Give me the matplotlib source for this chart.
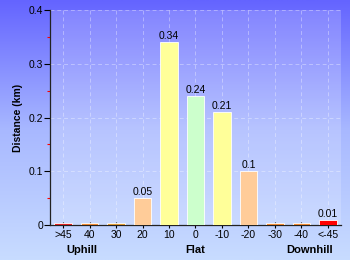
import numpy as np
import matplotlib
matplotlib.use("Agg")
import matplotlib.pyplot as plt
from matplotlib.colors import LinearSegmentedColormap

categories = [">45", "40", "30", "20", "10", "0", "-10", "-20", "-30", "-40", "<-45"]
values = [0.003, 0.003, 0.003, 0.05, 0.34, 0.24, 0.21, 0.10, 0.003, 0.003, 0.01]
labels = ["", "", "", "0.05", "0.34", "0.24", "0.21", "0.1", "", "", "0.01"]
colors = ["#dd2222", "#ee8833", "#dd9933", "#ffcc99", "#ffff99", "#ccffcc",
          "#ffff99", "#ffcc99", "#ee8833", "#ee8833", "#ff0000"]
yticks = [0, 0.1, 0.2, 0.3, 0.4]
ytick_labels = ["0", "0.1", "0.2", "0.3", "0.4"]
groups = [("Uphill", 0.7), ("Flat", 5), ("Downhill", 9.3)]

plt.rcParams['font.family'] = ['Liberation Sans', 'DejaVu Sans']

fig = plt.figure(figsize=(3.5, 2.6), dpi=100)

# background gradient
bg = fig.add_axes([0, 0, 1, 1], zorder=-10)
cmap = LinearSegmentedColormap.from_list("bg", ["#6464ff", "#a8b8ff", "#c8dcff"])
grad = np.linspace(0, 1, 256).reshape(-1, 1)
bg.imshow(grad, aspect="auto", cmap=cmap, extent=[0, 1, 0, 1], origin="upper")
bg.axis("off")

ax = fig.add_axes([50/350, 35/260, 291/350, 215/260])
ax.set_facecolor((1, 1, 1, 0.18))
x = np.arange(len(categories))
ax.bar(x, values, width=0.66, color=colors, edgecolor="#ffffff", linewidth=0.6, zorder=3)
for xi, v, lab in zip(x, values, labels):
    if lab:
        ax.text(xi, v + 0.002, lab, ha="center", va="bottom", fontsize=7.5, color="black", zorder=4)

ax.set_xlim(-0.5, len(categories) - 0.5)
ax.set_ylim(0, 0.4)
ax.set_yticks(yticks)
ax.set_yticklabels(ytick_labels, fontsize=7.5)
ax.set_yticks([0.05, 0.15, 0.25, 0.35], minor=True)
ax.tick_params(axis="y", which="major", direction="out", length=4, width=0.8, pad=1, colors="black")
ax.tick_params(axis="y", which="minor", direction="out", length=2, width=0.8, color="red")
ax.set_xticks(x)
ax.set_xticklabels(categories, fontsize=7.5)
ax.tick_params(axis="x", direction="inout", length=5, width=0.8, pad=1)

ax.grid(True, which="major", color="#ffffff", alpha=0.35, linestyle=(0, (4, 3)), linewidth=0.7, zorder=0)
for s in ["top", "right"]:
    ax.spines[s].set_visible(False)
ax.spines["left"].set_linewidth(0.9)
ax.spines["bottom"].set_linewidth(0.9)
ax.spines["left"].set_color("#222222")
ax.spines["bottom"].set_color("#222222")

ax.set_ylabel("Distance (km)", fontsize=7.5, fontweight="bold", labelpad=4)
for name, gx in groups:
    ax.text(gx, -0.0465, name, ha="center", va="center", fontsize=8, fontweight="bold",
            transform=ax.transData, clip_on=False)

fig.savefig("out.png", dpi=100)
